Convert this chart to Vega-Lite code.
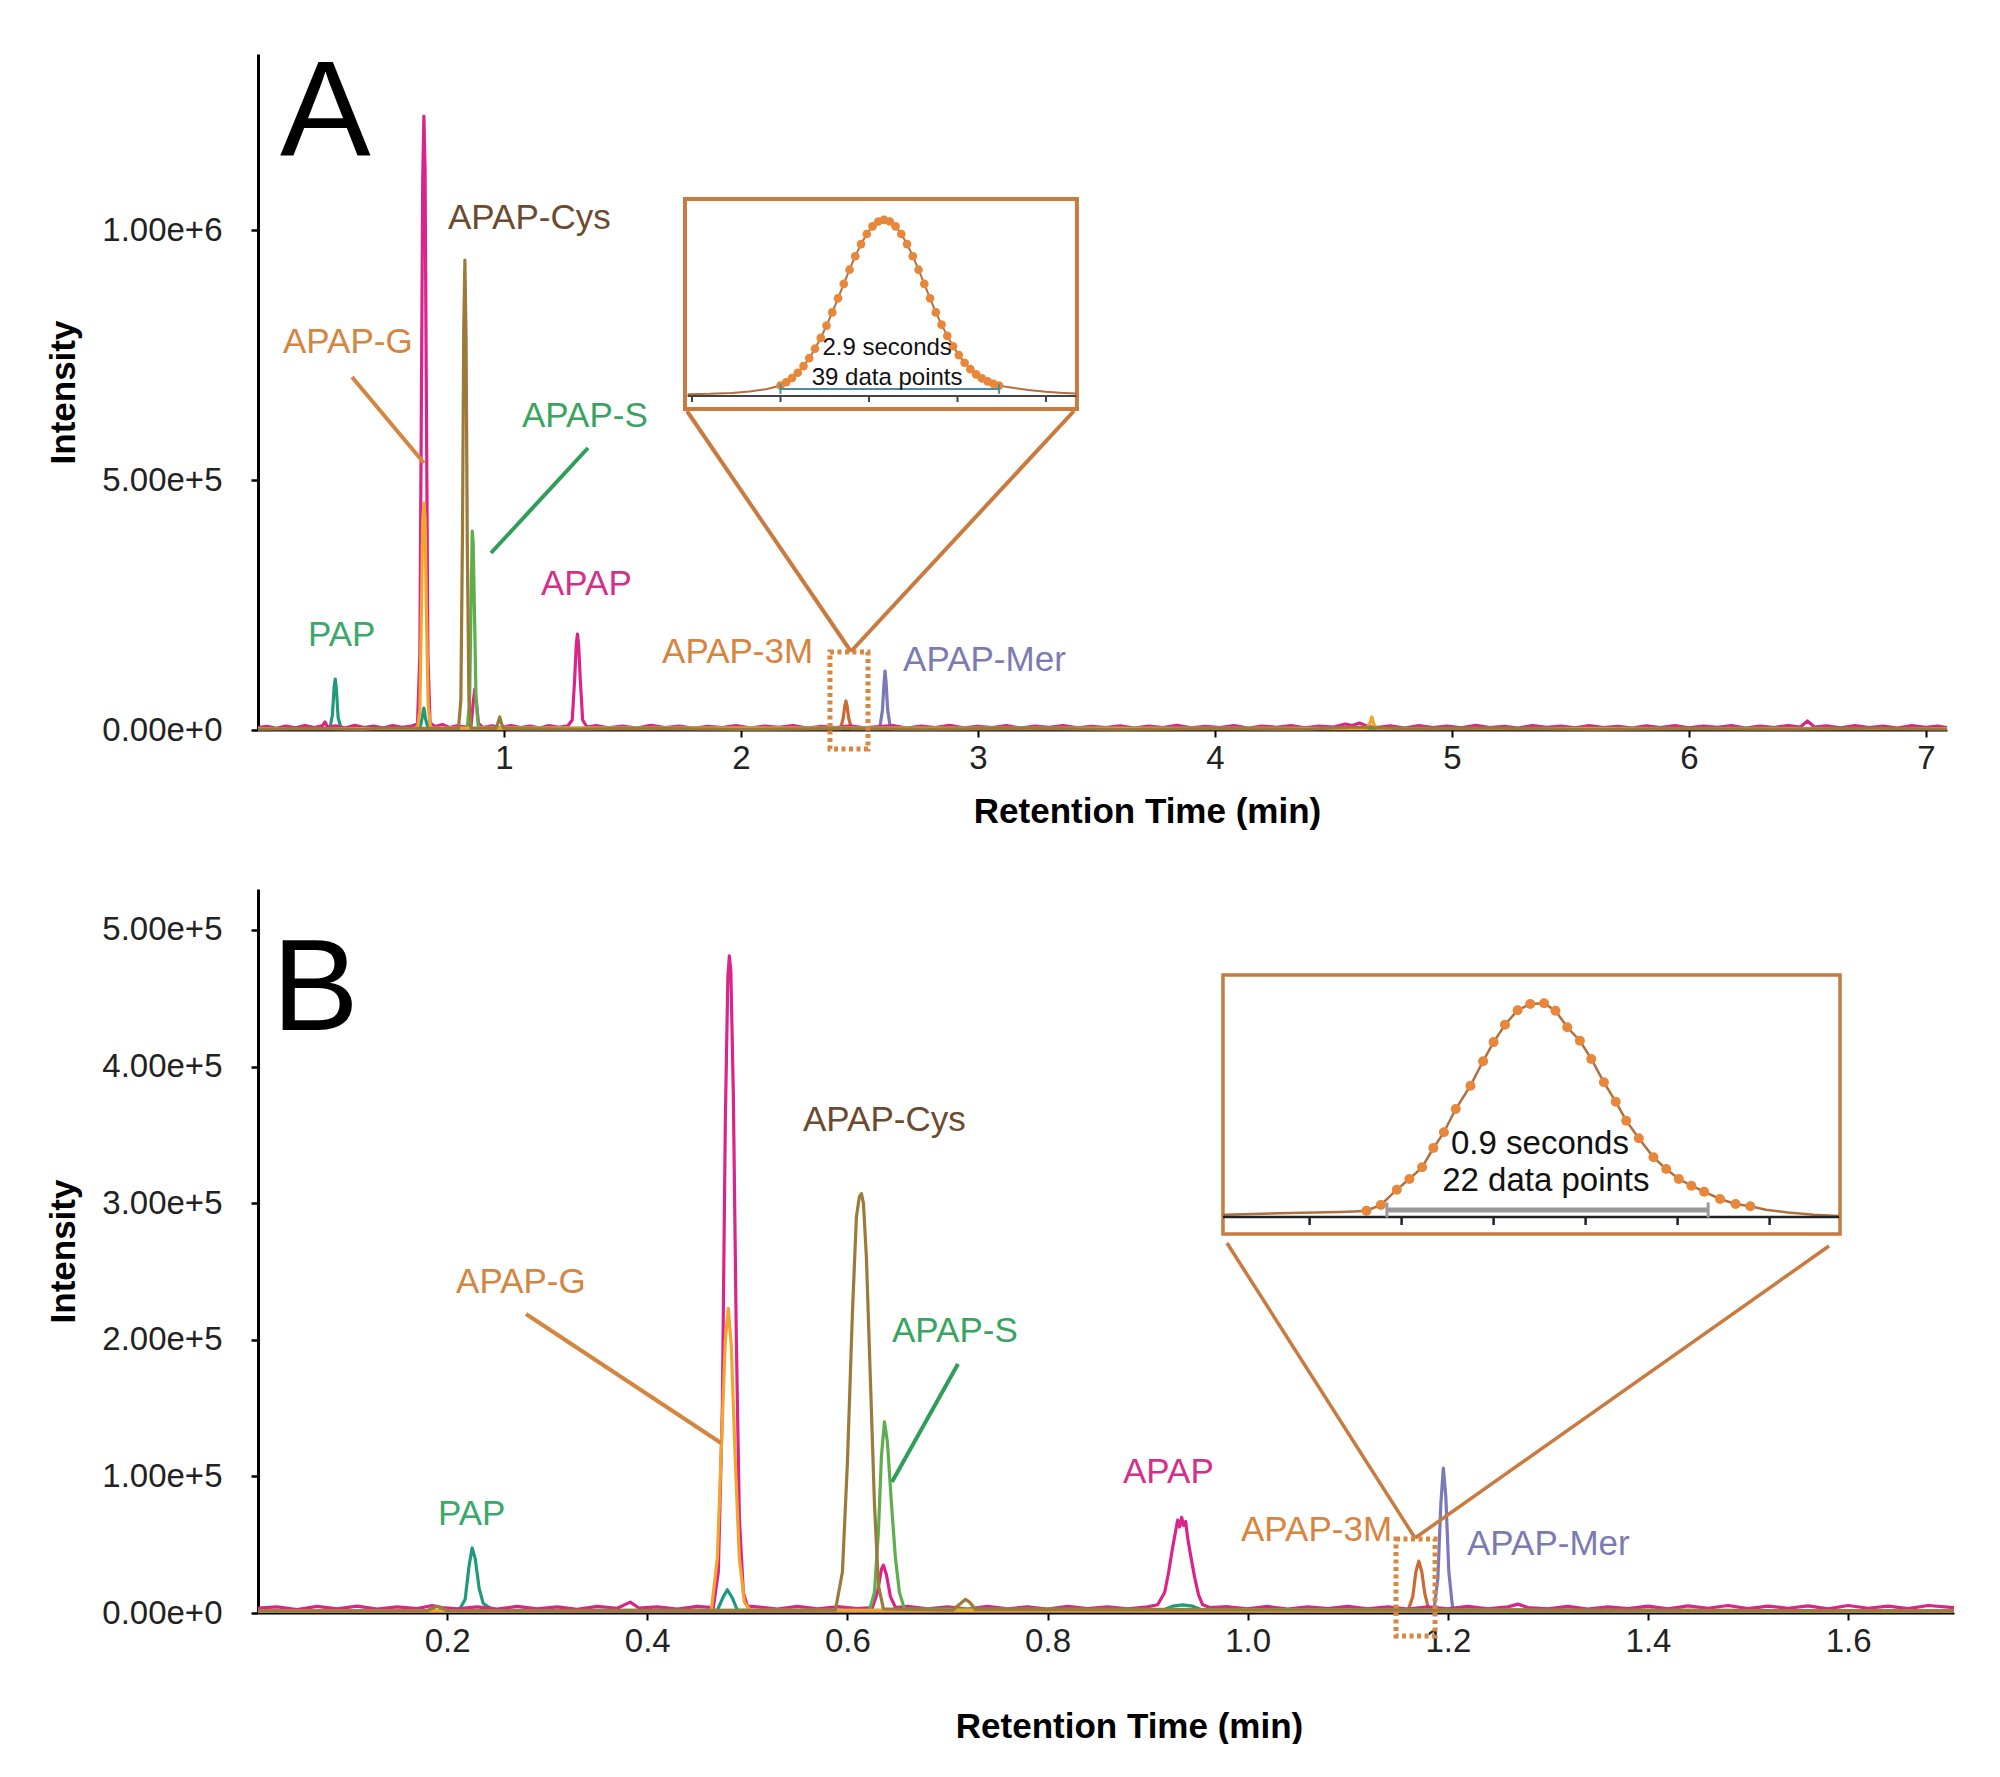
{
"$schema":"https://vega.github.io/schema/vega-lite/v6.json",
"autosize":{"type":"pad"},
"padding":{"left":46,"top":46,"right":0,"bottom":0},
"background":"white",
"config":{"view":{"stroke":null},"font":"Liberation Sans","axis":{"grid":false}},
"spacing":159,
"bounds":"flush",
"datasets":{
"one":[{}],
"a":[
{"s":"APAP-Mer","t":-0.038,"i":2500},{"s":"APAP-Mer","t":2.585,"i":2500},{"s":"APAP-Mer","t":2.597,"i":40000},{"s":"APAP-Mer","t":2.603,"i":90000},{"s":"APAP-Mer","t":2.608,"i":118000},{"s":"APAP-Mer","t":2.613,"i":90000},{"s":"APAP-Mer","t":2.619,"i":40000},{"s":"APAP-Mer","t":2.631,"i":2500},{"s":"APAP-Mer","t":7.089,"i":2500},
{"s":"APAP-3M","t":-0.038,"i":2500},{"s":"APAP-3M","t":2.42,"i":2500},{"s":"APAP-3M","t":2.432,"i":25000},{"s":"APAP-3M","t":2.438,"i":48000},{"s":"APAP-3M","t":2.443,"i":58000},{"s":"APAP-3M","t":2.448,"i":48000},{"s":"APAP-3M","t":2.454,"i":25000},{"s":"APAP-3M","t":2.466,"i":2500},{"s":"APAP-3M","t":7.089,"i":2500},
{"s":"PAP","t":-0.038,"i":3000},{"s":"PAP","t":0.265,"i":3000},{"s":"PAP","t":0.276,"i":30000},{"s":"PAP","t":0.283,"i":85000},{"s":"PAP","t":0.288,"i":102000},{"s":"PAP","t":0.293,"i":80000},{"s":"PAP","t":0.3,"i":25000},{"s":"PAP","t":0.312,"i":4000},{"s":"PAP","t":0.645,"i":3000},{"s":"PAP","t":0.655,"i":25000},{"s":"PAP","t":0.662,"i":44000},{"s":"PAP","t":0.669,"i":22000},{"s":"PAP","t":0.68,"i":3000},{"s":"PAP","t":7.089,"i":3000},
{"s":"APAP","t":-0.038,"i":5000},{"s":"APAP","t":0.0,"i":7500},{"s":"APAP","t":0.04,"i":3500},{"s":"APAP","t":0.08,"i":8000},{"s":"APAP","t":0.12,"i":4500},{"s":"APAP","t":0.16,"i":9000},{"s":"APAP","t":0.2,"i":5000},{"s":"APAP","t":0.235,"i":9000},{"s":"APAP","t":0.245,"i":16000},{"s":"APAP","t":0.255,"i":6000},{"s":"APAP","t":0.29,"i":8500},{"s":"APAP","t":0.33,"i":4000},{"s":"APAP","t":0.37,"i":9500},{"s":"APAP","t":0.41,"i":5000},{"s":"APAP","t":0.45,"i":8000},{"s":"APAP","t":0.49,"i":4000},{"s":"APAP","t":0.53,"i":9000},{"s":"APAP","t":0.57,"i":5500},{"s":"APAP","t":0.61,"i":8000},{"s":"APAP","t":0.635,"i":12000},{"s":"APAP","t":0.645,"i":150000},{"s":"APAP","t":0.652,"i":700000},{"s":"APAP","t":0.657,"i":1100000},{"s":"APAP","t":0.662,"i":1228000},{"s":"APAP","t":0.667,"i":1120000},{"s":"APAP","t":0.672,"i":700000},{"s":"APAP","t":0.679,"i":150000},{"s":"APAP","t":0.688,"i":14000},{"s":"APAP","t":0.71,"i":7000},{"s":"APAP","t":0.74,"i":11000},{"s":"APAP","t":0.77,"i":5000},{"s":"APAP","t":0.8,"i":8500},{"s":"APAP","t":0.84,"i":6000},{"s":"APAP","t":0.862,"i":12000},{"s":"APAP","t":0.87,"i":55000},{"s":"APAP","t":0.877,"i":82000},{"s":"APAP","t":0.884,"i":55000},{"s":"APAP","t":0.892,"i":14000},{"s":"APAP","t":0.91,"i":5000},{"s":"APAP","t":0.95,"i":8500},{"s":"APAP","t":0.99,"i":4500},{"s":"APAP","t":1.03,"i":9000},{"s":"APAP","t":1.07,"i":5000},{"s":"APAP","t":1.11,"i":8000},{"s":"APAP","t":1.15,"i":4000},{"s":"APAP","t":1.19,"i":9000},{"s":"APAP","t":1.23,"i":5500},{"s":"APAP","t":1.27,"i":8500},{"s":"APAP","t":1.288,"i":20000},{"s":"APAP","t":1.298,"i":100000},{"s":"APAP","t":1.305,"i":170000},{"s":"APAP","t":1.31,"i":192000},{"s":"APAP","t":1.315,"i":170000},{"s":"APAP","t":1.322,"i":100000},{"s":"APAP","t":1.332,"i":20000},{"s":"APAP","t":1.35,"i":6000},{"s":"APAP","t":1.39,"i":9000},{"s":"APAP","t":1.44,"i":4500},{"s":"APAP","t":1.5,"i":8000},{"s":"APAP","t":1.56,"i":4000},{"s":"APAP","t":1.62,"i":9500},{"s":"APAP","t":1.68,"i":5000},{"s":"APAP","t":1.74,"i":8000},{"s":"APAP","t":1.8,"i":3500},{"s":"APAP","t":1.86,"i":7500},{"s":"APAP","t":1.92,"i":5000},{"s":"APAP","t":1.98,"i":9000},{"s":"APAP","t":2.04,"i":4000},{"s":"APAP","t":2.1,"i":8000},{"s":"APAP","t":2.16,"i":5500},{"s":"APAP","t":2.22,"i":9000},{"s":"APAP","t":2.28,"i":4000},{"s":"APAP","t":2.34,"i":7500},{"s":"APAP","t":2.4,"i":5000},{"s":"APAP","t":2.46,"i":8500},{"s":"APAP","t":2.52,"i":4500},{"s":"APAP","t":2.58,"i":7000},{"s":"APAP","t":2.64,"i":9000},{"s":"APAP","t":2.7,"i":4000},{"s":"APAP","t":2.76,"i":8000},{"s":"APAP","t":2.82,"i":5000},{"s":"APAP","t":2.88,"i":9500},{"s":"APAP","t":2.94,"i":4500},{"s":"APAP","t":3.0,"i":7500},{"s":"APAP","t":3.06,"i":5000},{"s":"APAP","t":3.12,"i":9000},{"s":"APAP","t":3.18,"i":4000},{"s":"APAP","t":3.24,"i":8000},{"s":"APAP","t":3.3,"i":5500},{"s":"APAP","t":3.36,"i":9000},{"s":"APAP","t":3.42,"i":4500},{"s":"APAP","t":3.48,"i":7500},{"s":"APAP","t":3.54,"i":5000},{"s":"APAP","t":3.6,"i":8500},{"s":"APAP","t":3.66,"i":4000},{"s":"APAP","t":3.72,"i":8000},{"s":"APAP","t":3.78,"i":5000},{"s":"APAP","t":3.84,"i":9500},{"s":"APAP","t":3.9,"i":4500},{"s":"APAP","t":3.96,"i":7500},{"s":"APAP","t":4.02,"i":5000},{"s":"APAP","t":4.08,"i":9000},{"s":"APAP","t":4.14,"i":4000},{"s":"APAP","t":4.2,"i":8000},{"s":"APAP","t":4.26,"i":5500},{"s":"APAP","t":4.32,"i":9000},{"s":"APAP","t":4.38,"i":4500},{"s":"APAP","t":4.44,"i":8000},{"s":"APAP","t":4.5,"i":6000},{"s":"APAP","t":4.55,"i":12000},{"s":"APAP","t":4.58,"i":9000},{"s":"APAP","t":4.61,"i":14000},{"s":"APAP","t":4.64,"i":8000},{"s":"APAP","t":4.68,"i":5000},{"s":"APAP","t":4.74,"i":8500},{"s":"APAP","t":4.8,"i":4000},{"s":"APAP","t":4.86,"i":9000},{"s":"APAP","t":4.92,"i":5000},{"s":"APAP","t":4.98,"i":8000},{"s":"APAP","t":5.04,"i":4500},{"s":"APAP","t":5.1,"i":9500},{"s":"APAP","t":5.16,"i":5000},{"s":"APAP","t":5.22,"i":7500},{"s":"APAP","t":5.28,"i":4000},{"s":"APAP","t":5.34,"i":9000},{"s":"APAP","t":5.4,"i":5500},{"s":"APAP","t":5.46,"i":8000},{"s":"APAP","t":5.52,"i":4500},{"s":"APAP","t":5.58,"i":9000},{"s":"APAP","t":5.64,"i":5000},{"s":"APAP","t":5.7,"i":7500},{"s":"APAP","t":5.76,"i":4000},{"s":"APAP","t":5.82,"i":8500},{"s":"APAP","t":5.88,"i":5000},{"s":"APAP","t":5.94,"i":9000},{"s":"APAP","t":6.0,"i":4500},{"s":"APAP","t":6.06,"i":8000},{"s":"APAP","t":6.12,"i":5500},{"s":"APAP","t":6.18,"i":9000},{"s":"APAP","t":6.24,"i":4000},{"s":"APAP","t":6.3,"i":8000},{"s":"APAP","t":6.36,"i":5000},{"s":"APAP","t":6.42,"i":9000},{"s":"APAP","t":6.47,"i":6000},{"s":"APAP","t":6.5,"i":18000},{"s":"APAP","t":6.53,"i":6000},{"s":"APAP","t":6.58,"i":8500},{"s":"APAP","t":6.64,"i":4500},{"s":"APAP","t":6.7,"i":9000},{"s":"APAP","t":6.76,"i":5000},{"s":"APAP","t":6.82,"i":8000},{"s":"APAP","t":6.88,"i":4000},{"s":"APAP","t":6.94,"i":9000},{"s":"APAP","t":7.0,"i":5500},{"s":"APAP","t":7.05,"i":8000},{"s":"APAP","t":7.089,"i":5000},
{"s":"APAP-S","t":-0.038,"i":3000},{"s":"APAP-S","t":0.845,"i":3000},{"s":"APAP-S","t":0.855,"i":60000},{"s":"APAP-S","t":0.861,"i":250000},{"s":"APAP-S","t":0.866,"i":398000},{"s":"APAP-S","t":0.87,"i":375000},{"s":"APAP-S","t":0.875,"i":250000},{"s":"APAP-S","t":0.882,"i":60000},{"s":"APAP-S","t":0.892,"i":4000},{"s":"APAP-S","t":7.089,"i":3000},
{"s":"APAP-G","t":-0.038,"i":3000},{"s":"APAP-G","t":0.635,"i":3000},{"s":"APAP-G","t":0.645,"i":40000},{"s":"APAP-G","t":0.652,"i":250000},{"s":"APAP-G","t":0.657,"i":420000},{"s":"APAP-G","t":0.662,"i":454000},{"s":"APAP-G","t":0.667,"i":425000},{"s":"APAP-G","t":0.672,"i":250000},{"s":"APAP-G","t":0.68,"i":50000},{"s":"APAP-G","t":0.69,"i":4000},{"s":"APAP-G","t":4.64,"i":3000},{"s":"APAP-G","t":4.655,"i":15000},{"s":"APAP-G","t":4.662,"i":26000},{"s":"APAP-G","t":4.67,"i":12000},{"s":"APAP-G","t":4.685,"i":3000},{"s":"APAP-G","t":7.089,"i":3000},
{"s":"APAP-Cys","t":-0.038,"i":2000},{"s":"APAP-Cys","t":0.2,"i":3500},{"s":"APAP-Cys","t":0.4,"i":1500},{"s":"APAP-Cys","t":0.5,"i":4000},{"s":"APAP-Cys","t":0.808,"i":3000},{"s":"APAP-Cys","t":0.818,"i":60000},{"s":"APAP-Cys","t":0.825,"i":400000},{"s":"APAP-Cys","t":0.83,"i":800000},{"s":"APAP-Cys","t":0.835,"i":940000},{"s":"APAP-Cys","t":0.84,"i":780000},{"s":"APAP-Cys","t":0.845,"i":380000},{"s":"APAP-Cys","t":0.852,"i":60000},{"s":"APAP-Cys","t":0.862,"i":4000},{"s":"APAP-Cys","t":0.965,"i":3000},{"s":"APAP-Cys","t":0.975,"i":15000},{"s":"APAP-Cys","t":0.982,"i":26000},{"s":"APAP-Cys","t":0.99,"i":12000},{"s":"APAP-Cys","t":1.0,"i":3000},{"s":"APAP-Cys","t":1.3,"i":2000},{"s":"APAP-Cys","t":1.6,"i":3500},{"s":"APAP-Cys","t":2.0,"i":1500},{"s":"APAP-Cys","t":2.4,"i":3000},{"s":"APAP-Cys","t":2.8,"i":2000},{"s":"APAP-Cys","t":3.2,"i":3500},{"s":"APAP-Cys","t":3.6,"i":1500},{"s":"APAP-Cys","t":4.0,"i":3000},{"s":"APAP-Cys","t":4.4,"i":2000},{"s":"APAP-Cys","t":4.6,"i":6000},{"s":"APAP-Cys","t":4.8,"i":2500},{"s":"APAP-Cys","t":5.2,"i":3500},{"s":"APAP-Cys","t":5.6,"i":1500},{"s":"APAP-Cys","t":6.0,"i":3000},{"s":"APAP-Cys","t":6.4,"i":2000},{"s":"APAP-Cys","t":6.8,"i":3500},{"s":"APAP-Cys","t":7.089,"i":2000}
],
"b":[
{"s":"APAP-Mer","t":0.011,"i":1500},{"s":"APAP-Mer","t":1.186,"i":1500},{"s":"APAP-Mer","t":1.19,"i":25000},{"s":"APAP-Mer","t":1.193,"i":80000},{"s":"APAP-Mer","t":1.1955,"i":106000},{"s":"APAP-Mer","t":1.198,"i":85000},{"s":"APAP-Mer","t":1.201,"i":30000},{"s":"APAP-Mer","t":1.205,"i":2000},{"s":"APAP-Mer","t":1.7058,"i":1500},
{"s":"APAP-3M","t":0.011,"i":1500},{"s":"APAP-3M","t":1.16,"i":1500},{"s":"APAP-3M","t":1.165,"i":12000},{"s":"APAP-3M","t":1.168,"i":30000},{"s":"APAP-3M","t":1.171,"i":38000},{"s":"APAP-3M","t":1.174,"i":30000},{"s":"APAP-3M","t":1.177,"i":14000},{"s":"APAP-3M","t":1.181,"i":2500},{"s":"APAP-3M","t":1.7058,"i":1500},
{"s":"PAP","t":0.011,"i":1500},{"s":"PAP","t":0.212,"i":2000},{"s":"PAP","t":0.218,"i":10000},{"s":"PAP","t":0.222,"i":35000},{"s":"PAP","t":0.225,"i":47600},{"s":"PAP","t":0.228,"i":40000},{"s":"PAP","t":0.232,"i":18000},{"s":"PAP","t":0.236,"i":7000},{"s":"PAP","t":0.242,"i":4000},{"s":"PAP","t":0.25,"i":2000},{"s":"PAP","t":0.47,"i":2000},{"s":"PAP","t":0.476,"i":12000},{"s":"PAP","t":0.48,"i":17000},{"s":"PAP","t":0.485,"i":11000},{"s":"PAP","t":0.49,"i":2000},{"s":"PAP","t":0.915,"i":2000},{"s":"PAP","t":0.925,"i":5000},{"s":"PAP","t":0.935,"i":6000},{"s":"PAP","t":0.945,"i":5000},{"s":"PAP","t":0.955,"i":2000},{"s":"PAP","t":1.7058,"i":1500},
{"s":"APAP","t":0.011,"i":3500},{"s":"APAP","t":0.03,"i":4500},{"s":"APAP","t":0.05,"i":2500},{"s":"APAP","t":0.07,"i":4800},{"s":"APAP","t":0.09,"i":3000},{"s":"APAP","t":0.11,"i":5000},{"s":"APAP","t":0.13,"i":2800},{"s":"APAP","t":0.15,"i":4500},{"s":"APAP","t":0.17,"i":3200},{"s":"APAP","t":0.185,"i":5500},{"s":"APAP","t":0.195,"i":4000},{"s":"APAP","t":0.21,"i":3000},{"s":"APAP","t":0.23,"i":4500},{"s":"APAP","t":0.25,"i":2800},{"s":"APAP","t":0.27,"i":4800},{"s":"APAP","t":0.29,"i":3000},{"s":"APAP","t":0.31,"i":4500},{"s":"APAP","t":0.33,"i":2700},{"s":"APAP","t":0.35,"i":4800},{"s":"APAP","t":0.37,"i":3500},{"s":"APAP","t":0.383,"i":8000},{"s":"APAP","t":0.392,"i":3500},{"s":"APAP","t":0.41,"i":4500},{"s":"APAP","t":0.43,"i":2800},{"s":"APAP","t":0.45,"i":4800},{"s":"APAP","t":0.466,"i":4000},{"s":"APAP","t":0.471,"i":30000},{"s":"APAP","t":0.475,"i":150000},{"s":"APAP","t":0.478,"i":360000},{"s":"APAP","t":0.4805,"i":465000},{"s":"APAP","t":0.482,"i":481000},{"s":"APAP","t":0.4835,"i":470000},{"s":"APAP","t":0.486,"i":380000},{"s":"APAP","t":0.489,"i":200000},{"s":"APAP","t":0.492,"i":70000},{"s":"APAP","t":0.496,"i":15000},{"s":"APAP","t":0.5,"i":5000},{"s":"APAP","t":0.51,"i":4500},{"s":"APAP","t":0.53,"i":2800},{"s":"APAP","t":0.55,"i":4800},{"s":"APAP","t":0.57,"i":3000},{"s":"APAP","t":0.59,"i":4600},{"s":"APAP","t":0.61,"i":3200},{"s":"APAP","t":0.625,"i":4000},{"s":"APAP","t":0.63,"i":15000},{"s":"APAP","t":0.634,"i":32000},{"s":"APAP","t":0.636,"i":35000},{"s":"APAP","t":0.639,"i":28000},{"s":"APAP","t":0.643,"i":12000},{"s":"APAP","t":0.648,"i":4000},{"s":"APAP","t":0.66,"i":4800},{"s":"APAP","t":0.68,"i":3000},{"s":"APAP","t":0.7,"i":4500},{"s":"APAP","t":0.72,"i":2800},{"s":"APAP","t":0.74,"i":4800},{"s":"APAP","t":0.76,"i":3000},{"s":"APAP","t":0.78,"i":4600},{"s":"APAP","t":0.8,"i":2800},{"s":"APAP","t":0.82,"i":4800},{"s":"APAP","t":0.84,"i":3200},{"s":"APAP","t":0.86,"i":4500},{"s":"APAP","t":0.88,"i":3000},{"s":"APAP","t":0.9,"i":4500},{"s":"APAP","t":0.91,"i":6000},{"s":"APAP","t":0.917,"i":15000},{"s":"APAP","t":0.921,"i":30000},{"s":"APAP","t":0.925,"i":48000},{"s":"APAP","t":0.928,"i":60000},{"s":"APAP","t":0.93,"i":68000},{"s":"APAP","t":0.932,"i":63000},{"s":"APAP","t":0.934,"i":70000},{"s":"APAP","t":0.936,"i":64000},{"s":"APAP","t":0.938,"i":67000},{"s":"APAP","t":0.94,"i":55000},{"s":"APAP","t":0.943,"i":42000},{"s":"APAP","t":0.947,"i":26000},{"s":"APAP","t":0.951,"i":13000},{"s":"APAP","t":0.955,"i":6000},{"s":"APAP","t":0.962,"i":4000},{"s":"APAP","t":0.98,"i":4600},{"s":"APAP","t":1.0,"i":3000},{"s":"APAP","t":1.02,"i":4800},{"s":"APAP","t":1.04,"i":2800},{"s":"APAP","t":1.06,"i":4500},{"s":"APAP","t":1.08,"i":3200},{"s":"APAP","t":1.1,"i":4800},{"s":"APAP","t":1.12,"i":3000},{"s":"APAP","t":1.14,"i":4500},{"s":"APAP","t":1.16,"i":2800},{"s":"APAP","t":1.18,"i":4600},{"s":"APAP","t":1.2,"i":3000},{"s":"APAP","t":1.22,"i":4800},{"s":"APAP","t":1.24,"i":3000},{"s":"APAP","t":1.26,"i":4500},{"s":"APAP","t":1.27,"i":6500},{"s":"APAP","t":1.28,"i":4000},{"s":"APAP","t":1.3,"i":3000},{"s":"APAP","t":1.32,"i":4800},{"s":"APAP","t":1.34,"i":2800},{"s":"APAP","t":1.36,"i":4500},{"s":"APAP","t":1.38,"i":3200},{"s":"APAP","t":1.4,"i":5000},{"s":"APAP","t":1.42,"i":3000},{"s":"APAP","t":1.44,"i":5200},{"s":"APAP","t":1.46,"i":3500},{"s":"APAP","t":1.48,"i":5500},{"s":"APAP","t":1.5,"i":3200},{"s":"APAP","t":1.52,"i":5000},{"s":"APAP","t":1.54,"i":3500},{"s":"APAP","t":1.56,"i":5200},{"s":"APAP","t":1.58,"i":3000},{"s":"APAP","t":1.6,"i":5500},{"s":"APAP","t":1.62,"i":3500},{"s":"APAP","t":1.64,"i":5000},{"s":"APAP","t":1.66,"i":3200},{"s":"APAP","t":1.68,"i":5500},{"s":"APAP","t":1.7058,"i":4000},
{"s":"APAP-S","t":0.011,"i":1500},{"s":"APAP-S","t":0.622,"i":2000},{"s":"APAP-S","t":0.627,"i":15000},{"s":"APAP-S","t":0.631,"i":60000},{"s":"APAP-S","t":0.634,"i":115000},{"s":"APAP-S","t":0.637,"i":140000},{"s":"APAP-S","t":0.64,"i":125000},{"s":"APAP-S","t":0.644,"i":80000},{"s":"APAP-S","t":0.648,"i":40000},{"s":"APAP-S","t":0.652,"i":15000},{"s":"APAP-S","t":0.657,"i":3000},{"s":"APAP-S","t":1.7058,"i":1500},
{"s":"APAP-G","t":0.011,"i":1500},{"s":"APAP-G","t":0.464,"i":2000},{"s":"APAP-G","t":0.47,"i":40000},{"s":"APAP-G","t":0.474,"i":120000},{"s":"APAP-G","t":0.478,"i":200000},{"s":"APAP-G","t":0.481,"i":223000},{"s":"APAP-G","t":0.484,"i":195000},{"s":"APAP-G","t":0.488,"i":110000},{"s":"APAP-G","t":0.492,"i":40000},{"s":"APAP-G","t":0.497,"i":8000},{"s":"APAP-G","t":0.503,"i":2000},{"s":"APAP-G","t":1.7058,"i":1500},
{"s":"APAP-Cys","t":0.011,"i":1500},{"s":"APAP-Cys","t":0.18,"i":1800},{"s":"APAP-Cys","t":0.19,"i":5000},{"s":"APAP-Cys","t":0.2,"i":1800},{"s":"APAP-Cys","t":0.588,"i":2000},{"s":"APAP-Cys","t":0.595,"i":30000},{"s":"APAP-Cys","t":0.6,"i":110000},{"s":"APAP-Cys","t":0.605,"i":220000},{"s":"APAP-Cys","t":0.609,"i":290000},{"s":"APAP-Cys","t":0.612,"i":305000},{"s":"APAP-Cys","t":0.614,"i":307000},{"s":"APAP-Cys","t":0.616,"i":300000},{"s":"APAP-Cys","t":0.619,"i":260000},{"s":"APAP-Cys","t":0.623,"i":170000},{"s":"APAP-Cys","t":0.627,"i":80000},{"s":"APAP-Cys","t":0.631,"i":20000},{"s":"APAP-Cys","t":0.636,"i":3000},{"s":"APAP-Cys","t":0.705,"i":2000},{"s":"APAP-Cys","t":0.713,"i":7000},{"s":"APAP-Cys","t":0.718,"i":10000},{"s":"APAP-Cys","t":0.722,"i":8000},{"s":"APAP-Cys","t":0.728,"i":2500},{"s":"APAP-Cys","t":1.7058,"i":1500}
],
"la":[{"s":"APAP-Cys","t":0.7637,"i":1024000},{"s":"APAP-G","t":0.0675,"i":776000},{"s":"APAP-S","t":1.076,"i":628000},{"s":"APAP","t":1.156,"i":292000},{"s":"PAP","t":0.173,"i":190000},{"s":"APAP-3M","t":1.667,"i":156000},{"s":"APAP-Mer","t":2.684,"i":140000}],
"lb":[{"s":"APAP-Cys","t":0.5556,"i":360906},{"s":"APAP-G","t":0.2089,"i":242312},{"s":"APAP-S","t":0.6445,"i":206441},{"s":"PAP","t":0.1909,"i":72474},{"s":"APAP","t":0.8754,"i":103221},{"s":"APAP-3M","t":0.9933,"i":60761},{"s":"APAP-Mer","t":1.2191,"i":50512}],
"lda":[{"s":"APAP-G","t":0.3586,"i":706000,"t2":0.6624,"i2":534000},{"s":"APAP-S","t":1.3544,"i":564000,"t2":0.9451,"i2":354000}],
"ldb":[{"s":"APAP-G","t":0.2788,"i":218886,"t2":0.4737,"i2":124450},{"s":"APAP-S","t":0.7105,"i":182283,"t2":0.6445,"i2":95900}],
"zla":[{"t":2.464,"i":157000,"t2":1.772,"i2":638000},{"t":2.464,"i":157000,"t2":3.405,"i2":638000}],
"zlb":[{"t":1.1672,"i":54905,"t2":0.9793,"i2":270864},{"t":1.1672,"i":54905,"t2":1.5809,"i2":268668}],
"ia":[
{"t":2.399,"i":600,"d":0},{"t":2.404,"i":700,"d":0},{"t":2.409,"i":1000,"d":0},{"t":2.413,"i":1500,"d":0},{"t":2.417,"i":2300,"d":0},
{"t":2.42,"i":3442,"d":1},{"t":2.4213,"i":4508,"d":1},{"t":2.4226,"i":5887,"d":1},{"t":2.4239,"i":7631,"d":1},{"t":2.4252,"i":9797,"d":1},{"t":2.4265,"i":12414,"d":1},{"t":2.4278,"i":15503,"d":1},{"t":2.4291,"i":19060,"d":1},{"t":2.4304,"i":23050,"d":1},{"t":2.4317,"i":27399,"d":1},{"t":2.433,"i":32010,"d":1},{"t":2.4343,"i":36724,"d":1},{"t":2.4356,"i":41387,"d":1},{"t":2.4369,"i":45804,"d":1},{"t":2.4382,"i":49771,"d":1},{"t":2.4395,"i":53094,"d":1},{"t":2.4408,"i":55602,"d":1},{"t":2.4421,"i":57170,"d":1},{"t":2.4434,"i":57700,"d":1},{"t":2.4447,"i":57170,"d":1},{"t":2.446,"i":55602,"d":1},{"t":2.4473,"i":53094,"d":1},{"t":2.4486,"i":49771,"d":1},{"t":2.4499,"i":45804,"d":1},{"t":2.4512,"i":41387,"d":1},{"t":2.4525,"i":36724,"d":1},{"t":2.4538,"i":32010,"d":1},{"t":2.4551,"i":27399,"d":1},{"t":2.4564,"i":23400,"d":1},{"t":2.4577,"i":19700,"d":1},{"t":2.459,"i":16300,"d":1},{"t":2.4603,"i":13400,"d":1},{"t":2.4616,"i":10900,"d":1},{"t":2.4629,"i":8800,"d":1},{"t":2.4642,"i":7100,"d":1},{"t":2.4655,"i":5800,"d":1},{"t":2.4668,"i":4800,"d":1},{"t":2.4681,"i":4000,"d":1},{"t":2.4694,"i":3400,"d":1},
{"t":2.472,"i":2800,"d":0},{"t":2.476,"i":2000,"d":0},{"t":2.48,"i":1400,"d":0},{"t":2.484,"i":1000,"d":0},{"t":2.4868,"i":800,"d":0}
],
"iat":[{"t":2.4},{"t":2.42},{"t":2.44},{"t":2.46},{"t":2.48}],
"iac":[{"t":2.42},{"t":2.4694}],
"ib":[
{"t":69.266,"i":400,"d":0},{"t":69.45,"i":700,"d":0},{"t":69.58,"i":900,"d":0},{"t":69.62,"i":1000,"d":0},
{"t":69.6546,"i":1130,"d":1},{"t":69.6935,"i":2140,"d":1},{"t":69.737,"i":4876,"d":1},{"t":69.7712,"i":6779,"d":1},{"t":69.8057,"i":8861,"d":1},{"t":69.8364,"i":12310,"d":1},{"t":69.8649,"i":15105,"d":1},{"t":69.897,"i":19267,"d":1},{"t":69.9372,"i":23430,"d":1},{"t":69.9715,"i":27800,"d":1},{"t":70.0,"i":31200,"d":1},{"t":70.031,"i":34300,"d":1},{"t":70.0652,"i":36900,"d":1},{"t":70.0995,"i":38000,"d":1},{"t":70.1372,"i":38120,"d":1},{"t":70.1682,"i":36810,"d":1},{"t":70.2002,"i":33838,"d":1},{"t":70.2345,"i":31458,"d":1},{"t":70.2655,"i":28188,"d":1},{"t":70.2997,"i":24026,"d":1},{"t":70.3318,"i":20576,"d":1},{"t":70.3603,"i":17186,"d":1},{"t":70.3946,"i":14035,"d":1},{"t":70.4345,"i":10645,"d":1},{"t":70.469,"i":8563,"d":1},{"t":70.5033,"i":6779,"d":1},{"t":70.5375,"i":5590,"d":1},{"t":70.572,"i":4519,"d":1},{"t":70.6152,"i":3211,"d":1},{"t":70.6576,"i":2319,"d":1},{"t":70.6976,"i":1903,"d":1},
{"t":70.74,"i":1300,"d":0},{"t":70.8,"i":800,"d":0},{"t":70.87,"i":400,"d":0},{"t":70.938,"i":200,"d":0}
],
"ibt":[{"t":69.5},{"t":69.75},{"t":70.0},{"t":70.25},{"t":70.5},{"t":70.75}],
"ibc":[{"t":69.71},{"t":70.583}]
},
"vconcat":[
{
"width":1689,"height":676,
"resolve":{"scale":{"x":"independent","y":"independent","color":"independent"}},
"layer":[
{"data":{"name":"a"},"mark":{"type":"line","strokeWidth":3.2,"strokeJoin":"round"},
"encoding":{
"x":{"field":"t","type":"quantitative","scale":{"domain":[-0.038,7.089],"nice":false,"zero":false},"axis":{"orient":"bottom","values":[1,2,3,4,5,6,7],"format":"d","title":"Retention Time (min)","labelFontSize":33,"labelColor":"#222","labelPadding":5,"tickSize":7,"tickWidth":2,"tickColor":"#000","domainColor":"#000","domainWidth":2,"titleFontSize":35,"titleFontWeight":"bold","titleColor":"#000","titleX":889,"titleY":81,"titleBaseline":"middle","titleAlign":"center","labelFlush":false,"labelOverlap":false}},
"y":{"field":"i","type":"quantitative","scale":{"domain":[0,1352000],"nice":false,"zero":false},"axis":{"orient":"left","values":[0,500000,1000000],"format":".2e","title":"Intensity","labelFontSize":33,"labelColor":"#222","labelPadding":29,"tickSize":7,"tickWidth":2.5,"tickColor":"#000","domainColor":"#000","domainWidth":3,"titleFontSize":35,"titleFontWeight":"bold","titleColor":"#000","titleX":-195,"titleY":338,"titleBaseline":"middle","titleAlign":"center","titleAngle":270,"labelFlush":false,"labelOverlap":false}},
"color":{"field":"s","type":"nominal","scale":{"domain":["APAP-Mer","APAP-3M","PAP","APAP","APAP-S","APAP-G","APAP-Cys"],"range":["#7b79b8","#cc6a33","#1f9a7c","#d9258a","#5fae4e","#f2a52c","#9b7a3a"]},"legend":null}
}},
{"data":{"name":"la"},"mark":{"type":"text","align":"left","baseline":"middle","fontSize":35,"font":"Liberation Sans"},
"encoding":{
"x":{"field":"t","type":"quantitative","scale":{"domain":[-0.038,7.089],"nice":false,"zero":false},"axis":null},
"y":{"field":"i","type":"quantitative","scale":{"domain":[0,1352000],"nice":false,"zero":false},"axis":null},
"text":{"field":"s"},
"color":{"field":"s","type":"nominal","scale":{"domain":["PAP","APAP-G","APAP-Cys","APAP-S","APAP","APAP-3M","APAP-Mer"],"range":["#3aa86a","#d4853f","#6b4a2f","#38a45f","#d3308a","#d8843f","#7c7ab2"]},"legend":null}
}},
{"data":{"name":"lda"},"mark":{"type":"rule","strokeWidth":4},
"encoding":{
"x":{"field":"t","type":"quantitative","scale":{"domain":[-0.038,7.089],"nice":false,"zero":false},"axis":null},
"x2":{"field":"t2"},
"y":{"field":"i","type":"quantitative","scale":{"domain":[0,1352000],"nice":false,"zero":false},"axis":null},
"y2":{"field":"i2"},
"color":{"field":"s","type":"nominal","scale":{"domain":["APAP-G","APAP-S"],"range":["#d4853f","#2f9e5a"]},"legend":null}
}},
{"data":{"name":"zla"},"mark":{"type":"rule","strokeWidth":4,"color":"#c97a3f"},
"encoding":{
"x":{"field":"t","type":"quantitative","scale":{"domain":[-0.038,7.089],"nice":false,"zero":false},"axis":null},
"x2":{"field":"t2"},
"y":{"field":"i","type":"quantitative","scale":{"domain":[0,1352000],"nice":false,"zero":false},"axis":null},
"y2":{"field":"i2"}
}},
{"data":{"name":"one"},"mark":{"type":"rect","fill":"white","stroke":"#c97a3f","strokeWidth":4},
"encoding":{
"x":{"datum":1.7637,"type":"quantitative","scale":{"domain":[-0.038,7.089],"nice":false,"zero":false},"axis":null},
"x2":{"datum":3.4177},
"y":{"datum":1062000,"type":"quantitative","scale":{"domain":[0,1352000],"nice":false,"zero":false},"axis":null},
"y2":{"datum":642000}
}},
{"data":{"name":"one"},"mark":{"type":"rect","fillOpacity":0,"stroke":"#d9873f","strokeWidth":5,"strokeDash":[4,3.5]},
"encoding":{
"x":{"datum":2.3755,"type":"quantitative","scale":{"domain":[-0.038,7.089],"nice":false,"zero":false},"axis":null},
"x2":{"datum":2.5359},
"y":{"datum":156000,"type":"quantitative","scale":{"domain":[0,1352000],"nice":false,"zero":false},"axis":null},
"y2":{"datum":-38000}
}},
{"data":{"name":"one"},"mark":{"type":"text","text":"A","align":"left","baseline":"alphabetic","fontSize":136,"color":"#000","font":"Liberation Sans"},
"encoding":{
"x":{"datum":0.0548,"type":"quantitative","scale":{"domain":[-0.038,7.089],"nice":false,"zero":false},"axis":null},
"y":{"datum":1150000,"type":"quantitative","scale":{"domain":[0,1352000],"nice":false,"zero":false},"axis":null}
}},
{"data":{"name":"ia"},"mark":{"type":"line","strokeWidth":2,"color":"#b0703f"},
"encoding":{
"x":{"field":"t","type":"quantitative","scale":{"domain":[2.30192,2.68362],"nice":false,"zero":false},"axis":null},
"y":{"field":"i","type":"quantitative","scale":{"domain":[-109448,112068],"nice":false,"zero":false},"axis":null}
}},
{"data":{"name":"ia"},"transform":[{"filter":"datum.d == 1"}],"mark":{"type":"circle","size":75,"color":"#e8873a","opacity":1},
"encoding":{
"x":{"field":"t","type":"quantitative","scale":{"domain":[2.30192,2.68362],"nice":false,"zero":false},"axis":null},
"y":{"field":"i","type":"quantitative","scale":{"domain":[-109448,112068],"nice":false,"zero":false},"axis":null}
}},
{"data":{"name":"one"},"mark":{"type":"rule","color":"#444","strokeWidth":2},
"encoding":{
"x":{"datum":2.399,"type":"quantitative","scale":{"domain":[2.30192,2.68362],"nice":false,"zero":false},"axis":null},
"x2":{"datum":2.4868},
"y":{"datum":0,"type":"quantitative","scale":{"domain":[-109448,112068],"nice":false,"zero":false},"axis":null}
}},
{"data":{"name":"iat"},"mark":{"type":"rule","color":"#444","strokeWidth":2},
"encoding":{
"x":{"field":"t","type":"quantitative","scale":{"domain":[2.30192,2.68362],"nice":false,"zero":false},"axis":null},
"y":{"datum":0,"type":"quantitative","scale":{"domain":[-109448,112068],"nice":false,"zero":false},"axis":null},
"y2":{"datum":-1967}
}},
{"data":{"name":"one"},"mark":{"type":"rule","color":"#4a8f9a","strokeWidth":2},
"encoding":{
"x":{"datum":2.42,"type":"quantitative","scale":{"domain":[2.30192,2.68362],"nice":false,"zero":false},"axis":null},
"x2":{"datum":2.4694},
"y":{"datum":2300,"type":"quantitative","scale":{"domain":[-109448,112068],"nice":false,"zero":false},"axis":null}
}},
{"data":{"name":"iac"},"mark":{"type":"rule","color":"#4a8f9a","strokeWidth":2},
"encoding":{
"x":{"field":"t","type":"quantitative","scale":{"domain":[2.30192,2.68362],"nice":false,"zero":false},"axis":null},
"y":{"datum":700,"type":"quantitative","scale":{"domain":[-109448,112068],"nice":false,"zero":false},"axis":null},
"y2":{"datum":3900}
}},
{"data":{"name":"one"},"mark":{"type":"text","text":"2.9 seconds","align":"center","baseline":"alphabetic","fontSize":24,"color":"#111","font":"Liberation Sans"},
"encoding":{
"x":{"datum":2.4441,"type":"quantitative","scale":{"domain":[2.30192,2.68362],"nice":false,"zero":false},"axis":null},
"y":{"datum":13435,"type":"quantitative","scale":{"domain":[-109448,112068],"nice":false,"zero":false},"axis":null}
}},
{"data":{"name":"one"},"mark":{"type":"text","text":"39 data points","align":"center","baseline":"alphabetic","fontSize":24,"color":"#111","font":"Liberation Sans"},
"encoding":{
"x":{"datum":2.4441,"type":"quantitative","scale":{"domain":[2.30192,2.68362],"nice":false,"zero":false},"axis":null},
"y":{"datum":3600,"type":"quantitative","scale":{"domain":[-109448,112068],"nice":false,"zero":false},"axis":null}
}}
]
},
{
"width":1696,"height":724,
"resolve":{"scale":{"x":"independent","y":"independent","color":"independent"}},
"layer":[
{"data":{"name":"b"},"mark":{"type":"line","strokeWidth":3.2,"strokeJoin":"round"},
"encoding":{
"x":{"field":"t","type":"quantitative","scale":{"domain":[0.011,1.7058],"nice":false,"zero":false},"axis":{"orient":"bottom","values":[0.2,0.4,0.6,0.8,1.0,1.2,1.4,1.6],"format":".1f","title":"Retention Time (min)","labelFontSize":33,"labelColor":"#222","labelPadding":5,"tickSize":7,"tickWidth":2,"tickColor":"#000","domainColor":"#000","domainWidth":2,"titleFontSize":35,"titleFontWeight":"bold","titleColor":"#000","titleX":871,"titleY":113,"titleBaseline":"middle","titleAlign":"center","labelFlush":false,"labelOverlap":false}},
"y":{"field":"i","type":"quantitative","scale":{"domain":[0,530000],"nice":false,"zero":false},"axis":{"orient":"left","values":[0,100000,200000,300000,400000,500000],"format":".2e","title":"Intensity","labelFontSize":33,"labelColor":"#222","labelPadding":29,"tickSize":7,"tickWidth":2.5,"tickColor":"#000","domainColor":"#000","domainWidth":3,"titleFontSize":35,"titleFontWeight":"bold","titleColor":"#000","titleX":-195,"titleY":362,"titleBaseline":"middle","titleAlign":"center","titleAngle":270,"labelFlush":false,"labelOverlap":false}},
"color":{"field":"s","type":"nominal","scale":{"domain":["APAP-Mer","APAP-3M","PAP","APAP","APAP-S","APAP-G","APAP-Cys"],"range":["#7b79b8","#cc6a33","#1f9a7c","#d9258a","#5fae4e","#f2a52c","#9b7a3a"]},"legend":null}
}},
{"data":{"name":"lb"},"mark":{"type":"text","align":"left","baseline":"middle","fontSize":35,"font":"Liberation Sans"},
"encoding":{
"x":{"field":"t","type":"quantitative","scale":{"domain":[0.011,1.7058],"nice":false,"zero":false},"axis":null},
"y":{"field":"i","type":"quantitative","scale":{"domain":[0,530000],"nice":false,"zero":false},"axis":null},
"text":{"field":"s"},
"color":{"field":"s","type":"nominal","scale":{"domain":["PAP","APAP-G","APAP-Cys","APAP-S","APAP","APAP-3M","APAP-Mer"],"range":["#3aa86a","#d4853f","#6b4a2f","#38a45f","#d3308a","#d8843f","#7c7ab2"]},"legend":null}
}},
{"data":{"name":"ldb"},"mark":{"type":"rule","strokeWidth":4},
"encoding":{
"x":{"field":"t","type":"quantitative","scale":{"domain":[0.011,1.7058],"nice":false,"zero":false},"axis":null},
"x2":{"field":"t2"},
"y":{"field":"i","type":"quantitative","scale":{"domain":[0,530000],"nice":false,"zero":false},"axis":null},
"y2":{"field":"i2"},
"color":{"field":"s","type":"nominal","scale":{"domain":["APAP-G","APAP-S"],"range":["#d4853f","#2f9e5a"]},"legend":null}
}},
{"data":{"name":"zlb"},"mark":{"type":"rule","strokeWidth":3.5,"color":"#c97a3f"},
"encoding":{
"x":{"field":"t","type":"quantitative","scale":{"domain":[0.011,1.7058],"nice":false,"zero":false},"axis":null},
"x2":{"field":"t2"},
"y":{"field":"i","type":"quantitative","scale":{"domain":[0,530000],"nice":false,"zero":false},"axis":null},
"y2":{"field":"i2"}
}},
{"data":{"name":"one"},"mark":{"type":"rect","fill":"white","stroke":"#c97a3f","strokeWidth":3.5},
"encoding":{
"x":{"datum":0.9753,"type":"quantitative","scale":{"domain":[0.011,1.7058],"nice":false,"zero":false},"axis":null},
"x2":{"datum":1.5919},
"y":{"datum":467054,"type":"quantitative","scale":{"domain":[0,530000],"nice":false,"zero":false},"axis":null},
"y2":{"datum":277450}
}},
{"data":{"name":"one"},"mark":{"type":"rect","fillOpacity":0,"stroke":"#d9873f","strokeWidth":5,"strokeDash":[4,3.5]},
"encoding":{
"x":{"datum":1.1482,"type":"quantitative","scale":{"domain":[0.011,1.7058],"nice":false,"zero":false},"axis":null},
"x2":{"datum":1.1872},
"y":{"datum":54172,"type":"quantitative","scale":{"domain":[0,530000],"nice":false,"zero":false},"axis":null},
"y2":{"datum":-16837}
}},
{"data":{"name":"one"},"mark":{"type":"text","text":"B","align":"left","baseline":"alphabetic","fontSize":130,"color":"#000","font":"Liberation Sans"},
"encoding":{
"x":{"datum":0.025,"type":"quantitative","scale":{"domain":[0.011,1.7058],"nice":false,"zero":false},"axis":null},
"y":{"datum":426791,"type":"quantitative","scale":{"domain":[0,530000],"nice":false,"zero":false},"axis":null}
}},
{"data":{"name":"ib"},"mark":{"type":"line","strokeWidth":2.5,"color":"#b0703f"},
"encoding":{
"x":{"field":"t","type":"quantitative","scale":{"domain":[66.6424,71.2511],"nice":false,"zero":false},"axis":null},
"y":{"field":"i","type":"quantitative","scale":{"domain":[-70647,58516],"nice":false,"zero":false},"axis":null}
}},
{"data":{"name":"ib"},"transform":[{"filter":"datum.d == 1"}],"mark":{"type":"circle","size":100,"color":"#e8873a","opacity":1},
"encoding":{
"x":{"field":"t","type":"quantitative","scale":{"domain":[66.6424,71.2511],"nice":false,"zero":false},"axis":null},
"y":{"field":"i","type":"quantitative","scale":{"domain":[-70647,58516],"nice":false,"zero":false},"axis":null}
}},
{"data":{"name":"one"},"mark":{"type":"rule","color":"#222","strokeWidth":2.5},
"encoding":{
"x":{"datum":69.2647,"type":"quantitative","scale":{"domain":[66.6424,71.2511],"nice":false,"zero":false},"axis":null},
"x2":{"datum":70.939},
"y":{"datum":0,"type":"quantitative","scale":{"domain":[-70647,58516],"nice":false,"zero":false},"axis":null}
}},
{"data":{"name":"ibt"},"mark":{"type":"rule","color":"#222","strokeWidth":2.5},
"encoding":{
"x":{"field":"t","type":"quantitative","scale":{"domain":[66.6424,71.2511],"nice":false,"zero":false},"axis":null},
"y":{"datum":0,"type":"quantitative","scale":{"domain":[-70647,58516],"nice":false,"zero":false},"axis":null},
"y2":{"datum":-1430}
}},
{"data":{"name":"one"},"mark":{"type":"rule","color":"#9a9a9a","strokeWidth":5},
"encoding":{
"x":{"datum":69.71,"type":"quantitative","scale":{"domain":[66.6424,71.2511],"nice":false,"zero":false},"axis":null},
"x2":{"datum":70.583},
"y":{"datum":1249,"type":"quantitative","scale":{"domain":[-70647,58516],"nice":false,"zero":false},"axis":null}
}},
{"data":{"name":"ibc"},"mark":{"type":"rule","color":"#9a9a9a","strokeWidth":3},
"encoding":{
"x":{"field":"t","type":"quantitative","scale":{"domain":[66.6424,71.2511],"nice":false,"zero":false},"axis":null},
"y":{"datum":-100,"type":"quantitative","scale":{"domain":[-70647,58516],"nice":false,"zero":false},"axis":null},
"y2":{"datum":2600}
}},
{"data":{"name":"one"},"mark":{"type":"text","text":"0.9 seconds","align":"center","baseline":"alphabetic","fontSize":33,"color":"#111","font":"Liberation Sans"},
"encoding":{
"x":{"datum":70.126,"type":"quantitative","scale":{"domain":[66.6424,71.2511],"nice":false,"zero":false},"axis":null},
"y":{"datum":11239,"type":"quantitative","scale":{"domain":[-70647,58516],"nice":false,"zero":false},"axis":null}
}},
{"data":{"name":"one"},"mark":{"type":"text","text":"22 data points","align":"center","baseline":"alphabetic","fontSize":33,"color":"#111","font":"Liberation Sans"},
"encoding":{
"x":{"datum":70.142,"type":"quantitative","scale":{"domain":[66.6424,71.2511],"nice":false,"zero":false},"axis":null},
"y":{"datum":4638,"type":"quantitative","scale":{"domain":[-70647,58516],"nice":false,"zero":false},"axis":null}
}}
]
}
]
}
